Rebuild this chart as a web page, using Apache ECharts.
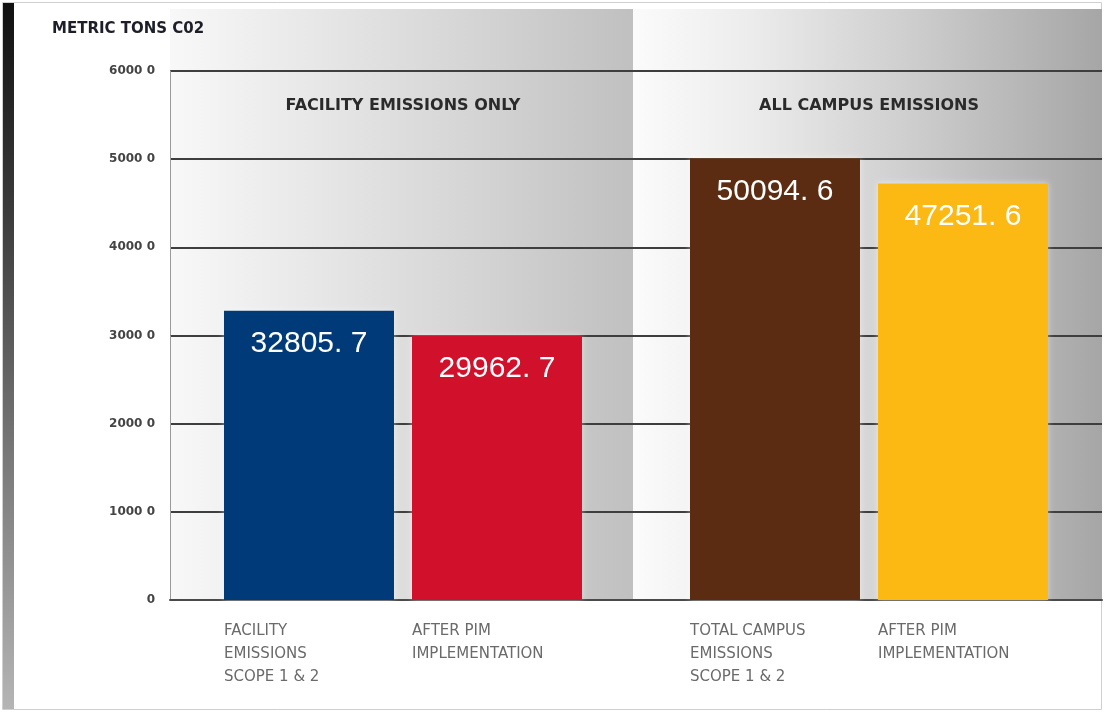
<!DOCTYPE html>
<html>
<head>
<meta charset="utf-8">
<style>
  html, body { margin: 0; padding: 0; background: #ffffff; }
  #chart { width: 1105px; height: 713px; }
</style>
<script src="https://cdn.jsdelivr.net/npm/echarts@6/dist/echarts.min.js"></script>
</head>
<body>
<div id="chart"></div>
<script>
// Emission groups and the two bars in each group
const groupNames = ['FACILITY EMISSIONS ONLY', 'ALL CAMPUS EMISSIONS'];
const baselineValues = [32805.7, 50094.6];   // scope 1 & 2 totals
const afterPimValues = [29962.7, 47251.6];   // after P.I.M implementation
const baselineColors = ['#003a78', '#5b2c12'];
const afterPimColors = ['#d1102b', '#fdb913'];
const baselineLabels = [
  ['FACILITY', 'EMISSIONS', 'SCOPE 1 & 2'],
  ['TOTAL CAMPUS', 'EMISSIONS', 'SCOPE 1 & 2']
];
const afterPimLabels = [
  ['AFTER PIM', 'IMPLEMENTATION'],
  ['AFTER PIM', 'IMPLEMENTATION']
];
const yMin = 0, yMax = 60000, yStep = 10000;
const yTitle = 'METRIC TONS C02';

const chart = echarts.init(document.getElementById('chart'), null, { renderer: 'canvas' });

// Bottom axis text: two left-aligned columns per group, one per bar
function groupAxisText(i) {
  const a = baselineLabels[i], b = afterPimLabels[i];
  const rows = Math.max(a.length, b.length);
  const lines = [];
  for (let r = 0; r < rows; r++) {
    lines.push('{a|' + (a[r] || ' ') + '}{b|' + (b[r] || ' ') + '}');
  }
  return lines.join('\n');
}

function tickText(v) {
  if (v === 0) return '0';
  const s = String(v);
  return s.slice(0, -1) + ' ' + s.slice(-1);
}

function valueText(p) {
  return String(p.value).replace('.', '. ');
}

const valueFont = 'Liberation Sans, Arial, sans-serif';
const wideFont = 'DejaVu Sans, Verdana, sans-serif';

chart.setOption({
  animation: false,
  backgroundColor: '#ffffff',
  graphic: [
    // outer frame
    { type: 'rect', z: -10, silent: true,
      shape: { x: 2.5, y: 2.5, width: 1099, height: 707 },
      style: { fill: '#ffffff', stroke: '#cfcfcf', lineWidth: 1 } },
    // dark edge strip
    { type: 'rect', z: -9, silent: true,
      shape: { x: 3, y: 3, width: 11, height: 706 },
      style: { fill: new echarts.graphic.LinearGradient(0, 0, 0, 1, [
        { offset: 0, color: '#111111' },
        { offset: 0.3, color: '#3c3c3c' },
        { offset: 0.65, color: '#7a7a7a' },
        { offset: 1, color: '#b5b5b5' }
      ]) } },
    // left panel shading
    { type: 'rect', z: -9, silent: true,
      shape: { x: 170, y: 9, width: 463, height: 591 },
      style: { fill: new echarts.graphic.LinearGradient(0, 0, 1, 0, [
        { offset: 0, color: '#f8f8f8' },
        { offset: 0.3, color: '#e8e8e8' },
        { offset: 0.7, color: '#d2d2d2' },
        { offset: 1, color: '#c0c0c0' }
      ]) } },
    // right panel shading
    { type: 'rect', z: -9, silent: true,
      shape: { x: 633, y: 9, width: 469, height: 591 },
      style: { fill: new echarts.graphic.LinearGradient(0, 0, 1, 0, [
        { offset: 0, color: '#fbfbfb' },
        { offset: 0.25, color: '#ececec' },
        { offset: 0.6, color: '#cdcdcd' },
        { offset: 1, color: '#a6a6a6' }
      ]) } },
    // y axis title
    { type: 'text', z: 10, silent: true,
      style: { x: 52, y: 22, text: yTitle, fill: '#1e1e2a',
        font: 'bold 15px "DejaVu Sans", Verdana, sans-serif' } }
  ],
  grid: { left: 170, right: 3, top: 71, bottom: 113, containLabel: false },
  xAxis: [
    {
      type: 'category',
      data: groupNames.map((_, i) => groupAxisText(i)),
      axisLine: { show: true, lineStyle: { color: '#4a4a4a', width: 2 } },
      axisTick: { show: false },
      splitLine: { show: false },
      axisLabel: {
        margin: 20,
        interval: 0,
        color: '#6a6a6a',
        fontFamily: wideFont,
        fontSize: 15,
        lineHeight: 23,
        rich: {
          a: { width: 188, align: 'left', fontSize: 15, color: '#6a6a6a', fontFamily: wideFont, lineHeight: 23 },
          b: { width: 170, align: 'left', fontSize: 15, color: '#6a6a6a', fontFamily: wideFont, lineHeight: 23 }
        }
      }
    },
    {
      type: 'category',
      position: 'top',
      data: groupNames,
      axisLine: { show: false },
      axisTick: { show: false },
      splitLine: { show: false },
      axisLabel: {
        inside: true,
        margin: 27,
        interval: 0,
        color: '#2a2a2a',
        fontWeight: 'bold',
        fontFamily: wideFont,
        fontSize: 16
      }
    }
  ],
  yAxis: {
    type: 'value',
    min: yMin,
    max: yMax,
    interval: yStep,
    axisLine: { show: true, lineStyle: { color: '#9a9a9a', width: 1 } },
    axisTick: { show: false },
    splitLine: { show: true, lineStyle: { color: '#3e3e3e', width: 2 } },
    axisLabel: {
      margin: 15,
      color: '#444444',
      fontWeight: 'bold',
      fontFamily: wideFont,
      fontSize: 12,
      formatter: tickText
    }
  },
  series: [
    {
      name: 'Scope 1 & 2',
      type: 'bar',
      xAxisIndex: 0,
      barWidth: 170,
      barGap: '10.6%',
      data: baselineValues.map((v, i) => ({ value: v, itemStyle: { color: baselineColors[i] } })),
      label: {
        show: true, position: 'insideTop', distance: 18,
        color: '#ffffff', fontSize: 30, fontFamily: valueFont,
        formatter: valueText
      },
      itemStyle: { shadowBlur: 6, shadowColor: 'rgba(255,255,255,0.5)' }
    },
    {
      name: 'After PIM',
      type: 'bar',
      xAxisIndex: 0,
      barWidth: 170,
      barGap: '10.6%',
      data: afterPimValues.map((v, i) => ({ value: v, itemStyle: { color: afterPimColors[i] } })),
      label: {
        show: true, position: 'insideTop', distance: 18,
        color: '#ffffff', fontSize: 30, fontFamily: valueFont,
        formatter: valueText
      },
      itemStyle: { shadowBlur: 6, shadowColor: 'rgba(255,255,255,0.5)' }
    }
  ]
});
</script>
</body>
</html>
